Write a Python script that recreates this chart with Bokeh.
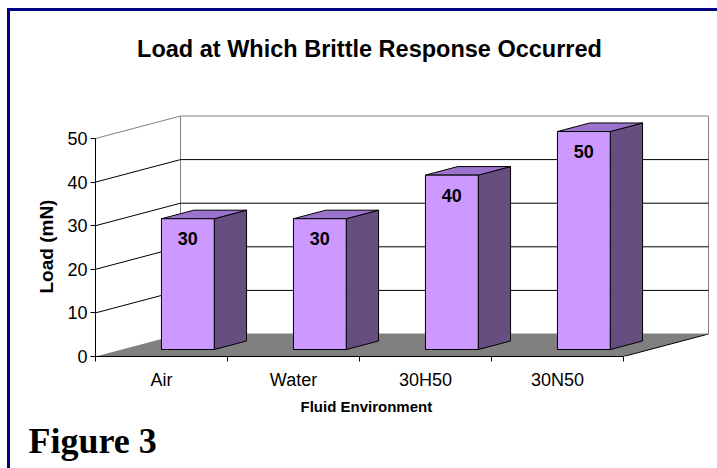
from bokeh.plotting import figure
from bokeh.models import Range1d, FixedTicker, Label, Title
from bokeh.core.properties import value
from bokeh.embed import file_html
from bokeh.resources import INLINE

# ---- data ----
categories = ["Air", "Water", "30H50", "30N50"]
loads = [30, 30, 40, 50]
y_ticks = [0, 10, 20, 30, 40, 50]
title_text = "Load at Which Brittle Response Occurred"
x_title = "Fluid Environment"
y_title = "Load (mN)"
fig_caption = "Figure 3"

# ---- layout constants (canvas pixels) ----
W, H = 717, 468
L, B = 95, 356          # frame left / bottom
CW = 132.0              # px per category
YS = 4.36               # px per load unit
DXP, DYP = 85.0, 22.5   # 3-D depth offset in px
DX = DXP / CW
DY = DYP / YS
F0, F1 = 0.31, 0.69     # bar depth (front/back fraction)
BW0, BW1 = 0.30, 0.70   # bar width within category
n = len(categories)
ymax = y_ticks[-1]

FONT = "Liberation Sans"

def sx(px):  # canvas px -> data x
    return (px - L) / CW

def sy(py):  # canvas px (from top) -> data y
    return (B - py) / YS

p = figure(width=W, height=H, output_backend="svg", toolbar_location=None,
           x_range=Range1d(0, (W - L) / CW), y_range=Range1d(0, B / YS),
           min_border_left=L, min_border_right=0, min_border_top=0,
           min_border_bottom=H - B)
p.grid.visible = False
p.outline_line_color = None
p.background_fill_color = None
p.border_fill_color = None
p.styles = {"box-shadow": "inset 7px 8px 0 0 #ffffff, inset 10px 11px 0 0 #000080"}

# ---- axes ----
yax = p.yaxis[0]
yax.bounds = (0, ymax)
yax.ticker = FixedTicker(ticks=y_ticks)
yax.major_tick_out = 5
yax.major_tick_in = 0
yax.minor_tick_out = 0
yax.minor_tick_in = 0
yax.major_label_standoff = 3
yax.axis_line_color = "black"
yax.major_tick_line_color = "black"
yax.major_label_text_font = FONT
yax.major_label_text_font_size = "18px"
yax.major_label_text_color = "black"

xax = p.xaxis[0]
xax.bounds = (0, n)
xax.ticker = FixedTicker(ticks=[i + 0.5 for i in range(n)],
                         minor_ticks=list(range(n + 1)))
xax.major_label_overrides = {i + 0.5: c for i, c in enumerate(categories)}
xax.major_tick_out = 0
xax.major_tick_in = 0
xax.minor_tick_out = 5
xax.minor_tick_in = 0
xax.minor_tick_line_color = "black"
xax.axis_line_color = "black"
xax.major_label_standoff = 8
xax.major_label_text_font = FONT
xax.major_label_text_font_size = "18px"
xax.major_label_text_color = "black"

# axis titles placed so they centre on the axis extent (not the frame)
p.add_layout(Title(text=x_title, align="left", offset=205, standoff=6,
                   text_font=FONT, text_font_style="bold",
                   text_font_size="15px", text_color="black"), "below")
p.add_layout(Title(text=fig_caption, align="left", offset=-67, standoff=3,
                   text_font="Liberation Serif", text_font_style="bold",
                   text_font_size="36px", text_color="black"), "below")
p.add_layout(Title(text=y_title, align="left", offset=63, standoff=16,
                   text_font=FONT, text_font_style="bold",
                   text_font_size="19px", text_color="black"), "left")

# ---- floor ----
p.patch([0, n, n + DX, DX], [0, 0, DY, DY], fill_color="#808080", line_color=None)
p.line([n, n + DX], [0, DY], line_color="black", line_width=1)

# ---- back wall ----
p.patch([DX, n + DX, n + DX, DX], [DY, DY, ymax + DY, ymax + DY],
        fill_color="white", line_color="#808080", line_width=1)

# ---- gridlines (side wall + back wall) ----
gx, gy = [], []
for v in y_ticks[1:-1]:
    gx.append([0, DX, n + DX])
    gy.append([v, v + DY, v + DY])
p.multi_line(gx, gy, line_color="black", line_width=1)
p.line([0, DX], [ymax, ymax + DY], line_color="#808080", line_width=1)

# ---- bars ----
fx, fy, sxs, sys_, tx, ty = [], [], [], [], [], []
for i, v in enumerate(loads):
    x0f = i + BW0 + F0 * DX
    x1f = i + BW1 + F0 * DX
    x0b = i + BW0 + F1 * DX
    x1b = i + BW1 + F1 * DX
    y0f = F0 * DY
    y0b = F1 * DY
    ytf = v + F0 * DY
    ytb = v + F1 * DY
    fx.append([x0f, x1f, x1f, x0f]); fy.append([y0f, y0f, ytf, ytf])
    sxs.append([x1f, x1b, x1b, x1f]); sys_.append([y0f, y0b, ytb, ytf])
    tx.append([x0f, x1f, x1b, x0b]); ty.append([ytf, ytf, ytb, ytb])

p.patches(sxs, sys_, fill_color="#664F80", line_color="black", line_width=1)
p.patches(tx, ty, fill_color="#9C73CC", line_color="black", line_width=1)
p.patches(fx, fy, fill_color="#CC99FF", line_color="black", line_width=1)

# ---- data labels ----
lx = [i + 0.5 + F0 * DX for i in range(n)]
ly = [v + F0 * DY for v in loads]
p.text(lx, ly, text=[str(v) for v in loads], text_align="center",
       text_baseline="middle", y_offset=20, text_font=value(FONT),
       text_font_style="bold", text_font_size="18px", text_color="black")

# ---- chart title ----
p.add_layout(Label(x=sx(369), y=sy(48), text=title_text, text_align="center",
                   text_baseline="middle", text_font=FONT, text_font_style="bold",
                   text_font_size="23.5px", text_color="black"))

open("out.html", "w").write(file_html(p, INLINE))
